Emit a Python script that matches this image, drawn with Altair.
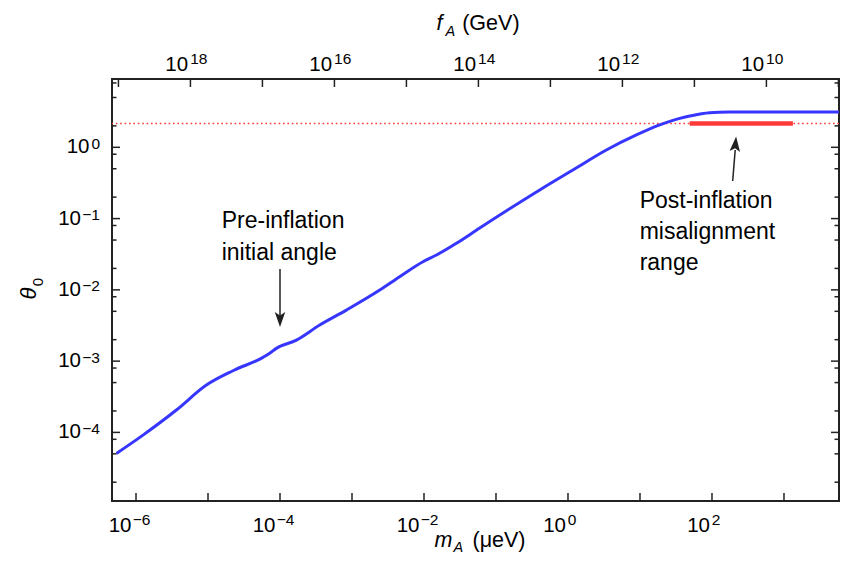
import altair as alt
import pandas as pd

FONT = "Liberation Sans"
INK = "#222222"
BLUE = "#3636ff"
RED = "#ff3838"

W, H = 727, 422
X_DOMAIN = [4.64e-7, 5.81e3]      # m_A (μeV)
Y_DOMAIN = [1.09e-5, 9.09]        # theta_0
FA_TIMES_MA = 5.7e12              # f_A (GeV) * m_A (μeV)

# ---- blue curve: initial misalignment angle vs axion mass ----
m_curve = [5.35e-7, 1.25e-6, 3.64e-6, 9.5e-6, 2.22e-5, 5.81e-5, 7.2e-5, 8.9e-5,
           1.69e-4, 3.56e-4, 8.36e-4, 2.43e-3, 4.59e-3, 9.68e-3, 1.49e-2, 2.82e-2,
           5.94e-2, 0.405, 1.17, 3.41, 8.91, 18.8, 35.6, 49.0, 92.9, 176.0,
           400.0, 6970.0]
theta_curve = [5.07e-5, 9.16e-5, 2.06e-4, 4.61e-4, 7.33e-4, 1.13e-3, 1.29e-3, 1.51e-3,
               1.97e-3, 3.21e-3, 5.2e-3, 9.93e-3, 1.53e-2, 2.48e-2, 3.08e-2, 4.5e-2,
               7.37e-2, 0.252, 0.48, 0.916, 1.49, 2.06, 2.55, 2.75, 3.06, 3.13,
               3.14, 3.14]

# ---- post-inflation misalignment ----
theta_post = [2.155]
m_post_range = [49.0, 1330.0]

# ---- axes ----
bottom_major_exp = list(range(-6, 4))
bottom_label_exp = [-6, -4, -2, 0, 2]
top_major_exp = list(range(9, 20))
top_label_exp = [18, 16, 14, 12, 10]
left_major_exp = [-4, -3, -2, -1, 0]
left_minor_mult = [2, 5, 8]
left_label_exp = [0, -1, -2, -3, -4]

# ---- annotations ----
pre_text = ["Pre-inflation\ninitial angle"]
pre_anchor_m, pre_anchor_theta = [1.55e-5], [0.073]
pre_arrow_m = [1e-4]
pre_arrow_theta = [0.0196, 0.0037]
pre_head_theta = [0.00383]
post_text = ["Post-inflation\nmisalignment\nrange"]
post_anchor_m, post_anchor_theta = [9.9], [0.139]
post_arrow_m = [193.9, 210.0]
post_arrow_theta = [0.3365, 0.9165]
post_head_m, post_head_theta = [211.9], [1.112]

xs = alt.Scale(type="log", domain=X_DOMAIN, nice=False)
ys = alt.Scale(type="log", domain=Y_DOMAIN, nice=False)


def X(f):
    return alt.X(f, type="quantitative", scale=xs, axis=None)


def Y(f):
    return alt.Y(f, type="quantitative", scale=ys, axis=None)


def sup(e):
    return ("\u2212" if e < 0 else "") + str(abs(e))


layers = []

# dotted reference line and thick post-inflation range
layers.append(alt.Chart(pd.DataFrame({"t": theta_post})).mark_rule(
    color=RED, strokeWidth=1.6, strokeDash=[1.6, 2.8]).encode(y=Y("t")))
layers.append(alt.Chart(pd.DataFrame({"m1": [m_post_range[0]], "m2": [m_post_range[1]],
                                      "t": theta_post})).mark_rule(
    color=RED, strokeWidth=4.5).encode(x=X("m1"), x2="m2", y=Y("t")))

# blue curve
layers.append(alt.Chart(pd.DataFrame({"m": m_curve, "t": theta_curve})).mark_line(
    color=BLUE, strokeWidth=3, interpolate="monotone", clip=True).encode(x=X("m"), y=Y("t")))

# ---- tick marks (inside) ----
bot = pd.DataFrame({"m": [10.0 ** e for e in bottom_major_exp]})
layers.append(alt.Chart(bot).mark_rule(color=INK, strokeWidth=1.5).encode(
    x=X("m"), y=alt.value(H), y2=alt.value(H - 8)))
top = pd.DataFrame({"m": [FA_TIMES_MA / 10.0 ** e for e in top_major_exp]})
layers.append(alt.Chart(top).mark_rule(color=INK, strokeWidth=1.5).encode(
    x=X("m"), y=alt.value(0), y2=alt.value(8)))
lmaj = pd.DataFrame({"t": [10.0 ** e for e in left_major_exp]})
lmin_vals = [k * 10.0 ** e for e in range(-5, 1) for k in left_minor_mult
             if Y_DOMAIN[0] < k * 10.0 ** e < Y_DOMAIN[1]]
lmin = pd.DataFrame({"t": lmin_vals})
for x0, sgn in [(0, 1), (W, -1)]:
    layers.append(alt.Chart(lmaj).mark_rule(color=INK, strokeWidth=1.5).encode(
        y=Y("t"), x=alt.value(x0), x2=alt.value(x0 + sgn * 8)))
    layers.append(alt.Chart(lmin).mark_rule(color=INK, strokeWidth=1.5).encode(
        y=Y("t"), x=alt.value(x0), x2=alt.value(x0 + sgn * 4.5)))

# ---- tick labels (10 + superscript) ----
BASE_FS, SUP_FS = 20.5, 15.5


def xlabels(exps, to_m, y_base, y_sup, neg_dx, pos_dx):
    out = []
    for neg in (True, False):
        sel = [e for e in exps if (e < 0) == neg]
        if not sel:
            continue
        df = pd.DataFrame({"m": [to_m(e) for e in sel], "b": ["10"] * len(sel),
                           "s": [sup(e) for e in sel]})
        bdx, sdx = neg_dx if neg else pos_dx
        out.append(alt.Chart(df).mark_text(font=FONT, fontSize=BASE_FS, align="right",
                                           baseline="alphabetic", dx=bdx, color="black").encode(
            x=X("m"), y=alt.value(y_base), text="b:N"))
        out.append(alt.Chart(df).mark_text(font=FONT, fontSize=SUP_FS, align="left",
                                           baseline="alphabetic", dx=sdx, color="black").encode(
            x=X("m"), y=alt.value(y_sup), text="s:N"))
    return out


layers += xlabels(bottom_label_exp, lambda e: 10.0 ** e, H + 31, H + 24,
                  (-4.5, -3.2), (-2.0, -0.3))
layers += xlabels(top_label_exp, lambda e: FA_TIMES_MA / 10.0 ** e, -8.5, -15,
                  (-2.3, -0.3), (-2.3, -0.3))

for neg in (True, False):
    sel = [e for e in left_label_exp if (e < 0) == neg]
    df = pd.DataFrame({"t": [10.0 ** e for e in sel], "b": ["10"] * len(sel),
                       "s": [sup(e) for e in sel]})
    layers.append(alt.Chart(df).mark_text(font=FONT, fontSize=BASE_FS, align="right",
                                          baseline="middle", color="black").encode(
        y=Y("t"), x=alt.value(-31 if neg else -22.5), text="b:N"))
    layers.append(alt.Chart(df).mark_text(font=FONT, fontSize=SUP_FS, align="right",
                                          baseline="alphabetic", dy=1.5, color="black").encode(
        y=Y("t"), x=alt.value(-12), text="s:N"))

# ---- axis titles ----
def tlabel(txt, x, y, fs, italic=False, angle=0, align="left", baseline="alphabetic"):
    kw = dict(font=FONT, fontSize=fs, align=align, baseline=baseline, color="black")
    if italic:
        kw["fontStyle"] = "italic"
    if angle:
        kw["angle"] = angle
    return alt.Chart(pd.DataFrame({"s": [txt]})).mark_text(**kw).encode(
        x=alt.value(x), y=alt.value(y), text="s:N")


layers += [
    tlabel("f", 324.5, -49.5, 21.5, italic=True),
    tlabel("A", 333.5, -43, 14.5, italic=True),
    tlabel("(GeV)", 350.2, -49.5, 21.5),
    tlabel("m", 322.5, 468, 21.5, italic=True),
    tlabel("A", 341.5, 472.5, 14.5, italic=True),
    tlabel("(\u03bceV)", 360.5, 468, 21.5),
    tlabel("\u03b8", -83.3, 214.5, 22, italic=True, angle=270, align="center", baseline="middle"),
    tlabel("0", -74.3, 203, 15, angle=270, align="center", baseline="middle"),
]

# ---- annotations ----
layers.append(alt.Chart(pd.DataFrame({"m": pre_anchor_m, "t": pre_anchor_theta, "s": pre_text}))
              .mark_text(font=FONT, fontSize=23, align="left", baseline="alphabetic",
                         lineBreak="\n", lineHeight=31.5, color="black")
              .encode(x=X("m"), y=Y("t"), text="s:N"))
layers.append(alt.Chart(pd.DataFrame({"m": post_anchor_m, "t": post_anchor_theta, "s": post_text}))
              .mark_text(font=FONT, fontSize=23, align="left", baseline="alphabetic",
                         lineBreak="\n", lineHeight=31, color="black")
              .encode(x=X("m"), y=Y("t"), text="s:N"))

layers.append(alt.Chart(pd.DataFrame({"m": pre_arrow_m, "t1": [pre_arrow_theta[0]],
                                      "t2": [pre_arrow_theta[1]]}))
              .mark_rule(color=INK, strokeWidth=1.5).encode(x=X("m"), y=Y("t1"), y2="t2"))
layers.append(alt.Chart(pd.DataFrame({"m": pre_arrow_m, "t": pre_head_theta}))
              .mark_point(shape="M0,1 L-0.7,-1 L0,-0.55 L0.7,-1 Z", size=225, filled=True,
                          fill=INK, color=INK, opacity=1, strokeWidth=0)
              .encode(x=X("m"), y=Y("t")))
layers.append(alt.Chart(pd.DataFrame({"m1": [post_arrow_m[0]], "m2": [post_arrow_m[1]],
                                      "t1": [post_arrow_theta[0]], "t2": [post_arrow_theta[1]]}))
              .mark_rule(color=INK, strokeWidth=1.5)
              .encode(x=X("m1"), x2="m2", y=Y("t1"), y2="t2"))
layers.append(alt.Chart(pd.DataFrame({"m": post_head_m, "t": post_head_theta}))
              .mark_point(shape="M0,-1 L-0.7,1 L0,0.55 L0.7,1 Z", size=225, filled=True,
                          fill=INK, color=INK, opacity=1, strokeWidth=0, angle=5)
              .encode(x=X("m"), y=Y("t")))

chart = alt.layer(*layers).properties(
    width=W, height=H,
    padding={"left": 104, "top": 71, "right": 1, "bottom": 52},
    autosize=alt.AutoSizeParams(type="none"),
).configure_view(stroke=INK, strokeWidth=2)

chart.save("out.html", embed_options={"renderer": "svg", "actions": False})
